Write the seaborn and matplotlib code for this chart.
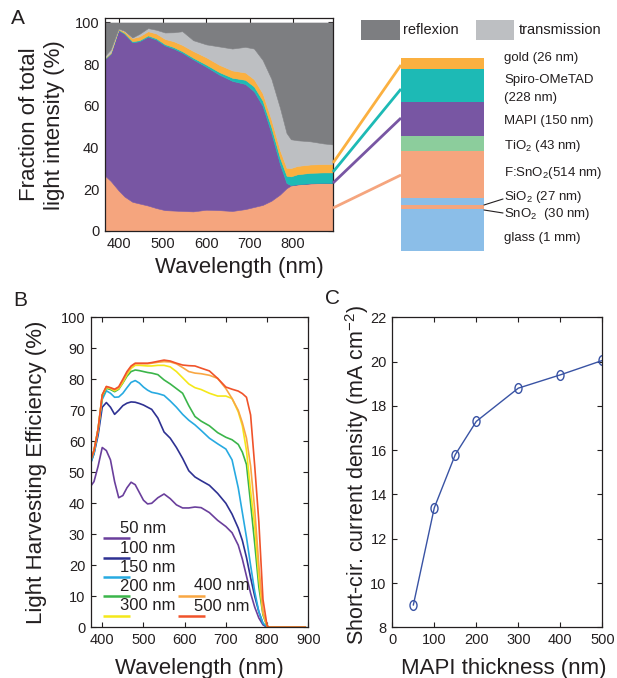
import numpy as np
import pandas as pd
import matplotlib
matplotlib.use("Agg")
import matplotlib.pyplot as plt
import seaborn as sns
from matplotlib.patches import Rectangle
from matplotlib.path import Path
from matplotlib.transforms import Affine2D
from matplotlib.ticker import MultipleLocator

sns.set_theme(style="ticks")
plt.rcParams['font.family'] = ['Liberation Sans', 'DejaVu Sans']
plt.rcParams['mathtext.default'] = 'regular'
TXT = '#231f20'
plt.rcParams.update({'text.color': TXT, 'axes.labelcolor': TXT, 'xtick.color': TXT,
                     'ytick.color': TXT, 'axes.edgecolor': TXT})

# ---------------- Panel A data (fraction of light, %) ----------------
wl_a = [367, 380, 398, 412, 430, 446, 466, 485, 505, 525, 545, 570, 600, 630, 660,
        690, 710, 730, 750, 770, 785, 795, 810, 840, 870, 892]
abs_fto = [26.5, 24, 19.5, 16.5, 14, 13.2, 12.2, 11, 10, 9.8, 9.6, 9.4, 10.2, 10, 9.6,
           10.5, 11.5, 12.5, 14.5, 17.5, 20.5, 21.8, 22.3, 22.8, 23, 23]
abs_mapi = [56, 61, 76.8, 78, 76.5, 77.8, 81, 80.8, 79, 77.7, 75.9, 72.9, 68.6, 65, 62.4,
            60, 55.5, 47.5, 32.5, 14.5, 2.5, 0.2, 0.1, 0.1, 0.1, 0.1]
abs_spiro = [0.3, 0.3, 0.3, 0.4, 0.5, 0.5, 0.6, 0.6, 0.6, 0.7, 0.7, 0.8, 1.0, 1.2, 1.5,
             2.0, 2.3, 2.5, 2.8, 3.0, 3.5, 4.2, 4.8, 5, 5, 5]
abs_gold = [0.3, 0.3, 0.3, 0.8, 1.5, 1.8, 2, 2.3, 2.5, 2.8, 3, 3.2, 3.5, 3.5, 3.5,
            3.5, 3.5, 3.5, 3.6, 3.7, 3.8, 4, 4, 4, 4, 4]
transmission = [0.9, 1.4, 0.2, 0.3, 0.3, 1.2, 1.5, 1.8, 3.1, 4.3, 6.6, 5.2, 6.2, 8.8, 10.5,
                12.3, 14.7, 16, 19.6, 20.3, 16.7, 13.8, 12.3, 11.1, 9.9, 9.4]
reflexion = [16, 13, 2.9, 4, 7.2, 5.5, 2.7, 3.5, 4.8, 4.7, 4.2, 8.5, 10.5, 11.5, 12.5,
             11.7, 12.5, 18, 27, 41, 53, 56, 56.5, 57, 58, 58.5]

C_REFL = '#7d7e81'
C_TRANS = '#bdbfc2'
C_GOLD = '#fbb040'
C_SPIRO = '#1dbab5'
C_MAPI = '#7856a3'
C_FTO = '#f5a57e'
C_TIO2 = '#8ccd9c'
C_GLASS = '#8bbee8'

# ---------------- Panel B data (LHE, %) ----------------
wl_b = [372, 380, 390, 400, 410, 420, 430, 440, 450, 460, 470, 480, 490, 500, 510, 520,
        535, 550, 565, 580, 595, 610, 625, 640, 660, 680, 700, 715, 730, 740, 750, 760,
        770, 780, 790, 800, 805, 893]
lhe = {
    '50 nm': [45.5, 47, 52, 58, 57, 54, 47, 41.8, 42.5, 45, 46.8, 46, 43.5, 41, 39.8, 40,
              41.8, 43, 41.5, 39.5, 38.5, 38.5, 38.8, 38.6, 37, 34.5, 32.5, 30.5, 26.5, 22,
              16.5, 11, 6.5, 3, 0.8, 0, 0, 0],
    '100 nm': [53, 56, 62, 71, 72.5, 71, 68.7, 70, 71.5, 72.3, 72.7, 72.6, 72.2, 71.7, 71,
               70.3, 67.5, 63, 61, 58, 54.5, 50.5, 48.5, 47.3, 45.8, 43.2, 40, 36.5, 32, 28,
               22.5, 16, 10, 5, 1.2, 0.1, 0, 0],
    '150 nm': [53, 56, 63, 73.5, 76.3, 75.5, 74.2, 74.3, 75.5, 77.3, 79, 79.6, 78.8, 77.5,
               76.5, 75.8, 75.4, 74.8, 73, 71, 68.7, 66.8, 65.3, 63.5, 61, 59.2, 57.5, 54,
               45, 37, 29, 20, 11.5, 5, 1.3, 0.2, 0, 0],
    '200 nm': [54, 57, 64, 74.5, 77.1, 76.7, 76, 76.8, 78.8, 81, 82.5, 83, 82.8, 82.5, 82.2,
               82, 81.5, 79.8, 78.5, 77, 75.5, 71.5, 68, 66.5, 65, 62.8, 61.3, 60.5, 59,
               56.5, 52.5, 40, 27, 13, 4, 0.3, 0, 0],
    '300 nm': [54, 57, 64, 74.8, 77.4, 77, 76.3, 77, 79, 81.5, 83.5, 84.5, 84.5, 84.4, 84.3,
               84.3, 84.5, 84.5, 84, 82.5, 80.5, 78.5, 77.3, 76.7, 75.5, 74.6, 74.6, 73.8,
               69.5, 65, 57, 44, 32.5, 16, 4.5, 0.5, 0, 0],
    '400 nm': [54, 57, 64, 75, 77.6, 77.2, 76.6, 77.3, 79.5, 82, 84, 85, 85, 85, 85, 85.2,
               85.5, 85.7, 85.6, 85, 83.8, 82.5, 82, 81.8, 81.3, 80.3, 77, 73.8, 70, 66, 61,
               52, 38, 20, 5, 0.5, 0, 0],
    '500 nm': [54, 57, 64, 75, 77.7, 77.3, 76.8, 77.6, 80, 82.5, 84.3, 85.2, 85.2, 85.2,
               85.2, 85.4, 85.8, 86.2, 85.9, 85.2, 84.6, 84.4, 84.3, 83.6, 82.7, 80.3, 77.5,
               76.8, 76.2, 75.4, 74.2, 68.5, 52, 34, 9, 0.5, 0, 0],
}
lhe_colors = ['#6a3f9c', '#2e3192', '#27aae1', '#3bb54a', '#f4e819', '#f9a743', '#f0532a']

# ---------------- Panel C data ----------------
mapi_thickness = [50, 100, 150, 200, 300, 400, 500]
jsc = [9.0, 13.4, 15.8, 17.3, 18.8, 19.4, 20.05]
C_JSC = '#3953a4'

# ---------------- Layer stack (schematic) ----------------
layer_names = ['gold', 'spiro', 'mapi', 'tio2', 'fto', 'sio2', 'sno2', 'glass']
layer_colors = [C_GOLD, C_SPIRO, C_MAPI, C_TIO2, C_FTO, C_GLASS, C_FTO, C_GLASS]
layer_edges_px = [58, 69, 102, 136, 151, 198, 205, 209, 251]

W, H = 617, 678
fig = plt.figure(figsize=(W / 100, H / 100), dpi=100)


def px_axes(l, t, r, b):
    return fig.add_axes([l / W, 1 - b / H, (r - l) / W, (b - t) / H])


def style_ax(ax):
    ax.tick_params(direction='in', top=True, right=True, length=3.5, width=0.8,
                   labelsize=10.5, pad=4, which='both')
    for s in ax.spines.values():
        s.set_linewidth(0.9)
        s.set_color(TXT)


# ---- Panel A ----
axA = px_axes(105, 18.3, 333, 231)
axA.stackplot(wl_a, abs_fto, abs_mapi, abs_spiro, abs_gold, transmission, reflexion,
              colors=[C_FTO, C_MAPI, C_SPIRO, C_GOLD, C_TRANS, C_REFL],
              linewidth=0.4, edgecolor='face')
axA.set_xlim(367, 892)
axA.set_ylim(0, 102)
axA.set_xticks([400, 500, 600, 700, 800])
axA.set_yticks([0, 20, 40, 60, 80, 100])
axA.yaxis.set_minor_locator(MultipleLocator(10))
style_ax(axA)
axA.set_xlabel('Wavelength (nm)', fontsize=16)
axA.xaxis.set_label_coords(0.59, -0.12)
axA.set_ylabel('Fraction of total\nlight intensity (%)', fontsize=16, linespacing=1.25)
axA.yaxis.set_label_coords(-0.175, 0.5)

# ---- Panel B ----
axB = px_axes(90.7, 317.3, 308.3, 627.3)
dfB = pd.DataFrame([(w, k, v) for k, vals in lhe.items() for w, v in zip(wl_b, vals)],
                   columns=['wl', 'thickness', 'lhe'])
sns.lineplot(data=dfB, x='wl', y='lhe', hue='thickness', palette=lhe_colors,
             legend=False, ax=axB, linewidth=1.2)
axB.set_xlim(372, 898)
axB.set_ylim(0, 100)
axB.set_xticks([400, 500, 600, 700, 800, 900])
axB.set_yticks(range(0, 101, 10))
style_ax(axB)
axB.set_xlabel('Wavelength (nm)', fontsize=16)
axB.xaxis.set_label_coords(0.5, -0.1)
axB.set_ylabel('Light Harvesting Efficiency (%)', fontsize=16)
axB.yaxis.set_label_coords(-0.2, 0.5)

# custom legend (text above short line)
leg_pos = [(0.057, 0.287, 0.135), (0.057, 0.2226, 0.135), (0.057, 0.161, 0.135),
           (0.057, 0.101, 0.135), (0.057, 0.0374, 0.135), (0.401, 0.102, 0.475),
           (0.401, 0.0365, 0.475)]
for (name, col), (lx, ly, tx) in zip(zip(lhe.keys(), lhe_colors), leg_pos):
    axB.plot([lx, lx + 0.124], [ly, ly], color=col, lw=1.8, transform=axB.transAxes,
             solid_capstyle='butt')
    axB.text(tx, ly + 0.032, name, transform=axB.transAxes, fontsize=12,
             ha='left', va='center')

# ---- Panel C ----
axC = px_axes(392.3, 317.3, 602.3, 627.3)
ell = Path.unit_circle().transformed(Affine2D().scale(0.72, 1.0))
dfC = pd.DataFrame({'t': mapi_thickness, 'j': jsc})
sns.lineplot(data=dfC, x='t', y='j', ax=axC, color=C_JSC, linewidth=1.0, marker=ell,
             markersize=7, markerfacecolor='none', markeredgecolor=C_JSC,
             markeredgewidth=1.0)
axC.set_xlim(0, 500)
axC.set_ylim(8, 22)
axC.set_xticks(range(0, 501, 100))
axC.set_yticks(range(8, 23, 2))
style_ax(axC)
axC.set_xlabel('MAPI thickness (nm)', fontsize=16)
axC.xaxis.set_label_coords(0.53, -0.1)
axC.set_ylabel('Short-cir. current density (mA cm$^{-2}$)', fontsize=15.5)
axC.yaxis.set_label_coords(-0.1, 0.49)

# ---- overlay: layer schematic, connectors, legend patches ----
ov = fig.add_axes([0, 0, 1, 1], zorder=5)
ov.set_xlim(0, W)
ov.set_ylim(H, 0)
ov.axis('off')
ov.patch.set_alpha(0)

for i, col in enumerate(layer_colors):
    y0, y1 = layer_edges_px[i], layer_edges_px[i + 1]
    ov.add_patch(Rectangle((401, y0), 83, y1 - y0, facecolor=col, edgecolor='none'))

for col, y0, y1 in [(C_GOLD, 163, 65), (C_SPIRO, 172, 89), (C_MAPI, 183, 118), (C_FTO, 208, 175)]:
    ov.plot([333, 401], [y0, y1], color=col, lw=2.0, solid_capstyle='butt')

ov.plot([484, 503], [205, 199], color=TXT, lw=0.8)
ov.plot([484, 503], [210, 213], color=TXT, lw=0.8)

labels = [('gold (26 nm)', 58), ('Spiro-OMeTAD', 80), ('(228 nm)', 98),
          ('MAPI (150 nm)', 121), ('TiO$_2$ (43 nm)', 145.5), ('F:SnO$_2$(514 nm)', 173),
          ('SiO$_2$ (27 nm)', 197), ('SnO$_2$  (30 nm)', 213.5), ('glass (1 mm)', 238.5)]
for txt, y in labels:
    ov.text(504, y, txt, fontsize=9.5, ha='left', va='center')

ov.add_patch(Rectangle((361, 20), 39, 20, facecolor=C_REFL, edgecolor='none'))
ov.add_patch(Rectangle((476, 20), 38, 20, facecolor=C_TRANS, edgecolor='none'))
ov.text(403, 30, 'reflexion', fontsize=10.5, ha='left', va='center')
ov.text(519, 30, 'transmission', fontsize=10.5, ha='left', va='center')

for lab, x, y in [('A', 18, 18), ('B', 20, 300), ('C', 332, 299)]:
    ov.text(x, y, lab, fontsize=15, ha='center', va='center')

fig.savefig('out.png', dpi=100)
